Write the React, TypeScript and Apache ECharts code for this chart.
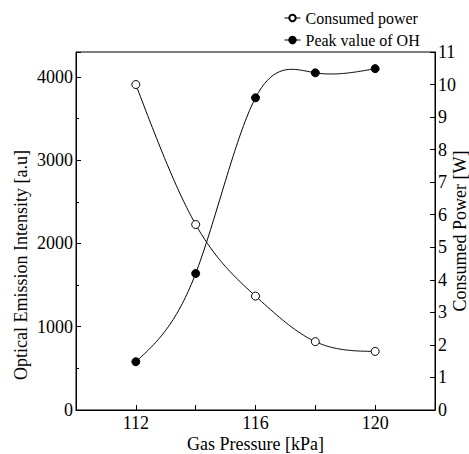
import React, { useEffect, useRef } from "react";
import * as echarts from "echarts";

const pressure = [112, 114, 116, 118, 120];
const consumedPower = [10.0, 5.7, 3.5, 2.1, 1.8];
const peakOH = [580, 1640, 3750, 4050, 4100];
const xLabels = [112, 116, 120];
const seriesNames = ["Consumed power", "Peak value of OH"];

const FONT = "'Liberation Serif', 'Times New Roman', Times, serif";

// natural cubic spline second derivatives
function splineM(xs: number[], ys: number[]) {
  const n = xs.length;
  const h: number[] = [];
  for (let i = 0; i < n - 1; i++) h.push(xs[i + 1] - xs[i]);
  const a: number[] = new Array(n).fill(0);
  const b: number[] = new Array(n).fill(1);
  const c: number[] = new Array(n).fill(0);
  const d: number[] = new Array(n).fill(0);
  for (let i = 1; i < n - 1; i++) {
    a[i] = h[i - 1];
    b[i] = 2 * (h[i - 1] + h[i]);
    c[i] = h[i];
    d[i] = 6 * ((ys[i + 1] - ys[i]) / h[i] - (ys[i] - ys[i - 1]) / h[i - 1]);
  }
  // Thomas algorithm
  const cp = new Array(n).fill(0);
  const dp = new Array(n).fill(0);
  cp[0] = c[0] / b[0];
  dp[0] = d[0] / b[0];
  for (let i = 1; i < n; i++) {
    const m = b[i] - a[i] * cp[i - 1];
    cp[i] = c[i] / m;
    dp[i] = (d[i] - a[i] * dp[i - 1]) / m;
  }
  const M = new Array(n).fill(0);
  M[n - 1] = dp[n - 1];
  for (let i = n - 2; i >= 0; i--) M[i] = dp[i] - cp[i] * M[i + 1];
  return M;
}

function splineRender(xs: number[], ys: number[]) {
  const M = splineM(xs, ys);
  return (params: any, api: any) => {
    if (params.dataIndex !== 0) return null;
    const pts: number[][] = [];
    for (let i = 0; i < xs.length - 1; i++) {
      const h = xs[i + 1] - xs[i];
      const steps = 40;
      for (let s = 0; s <= steps; s++) {
        if (i > 0 && s === 0) continue;
        const x = xs[i] + (h * s) / steps;
        const A = xs[i + 1] - x;
        const B = x - xs[i];
        const y =
          (M[i] * A * A * A) / (6 * h) +
          (M[i + 1] * B * B * B) / (6 * h) +
          (ys[i] / h - (M[i] * h) / 6) * A +
          (ys[i + 1] / h - (M[i + 1] * h) / 6) * B;
        pts.push(api.coord([x, y]));
      }
    }
    return {
      type: "polyline",
      shape: { points: pts },
      style: { stroke: "#000", lineWidth: 1, fill: null },
      silent: true,
    };
  };
}

export default function App() {
  const ref = useRef<HTMLDivElement>(null);
  useEffect(() => {
    if (!ref.current) return;
    const chart = echarts.init(ref.current, undefined, { renderer: "svg" });
    const txt = { color: "#000", fontFamily: FONT, fontSize: 18 };
    const powerData = pressure.map((p, i) => [p, consumedPower[i]]);
    const ohData = pressure.map((p, i) => [p, peakOH[i]]);
    chart.setOption({
      animation: false,
      backgroundColor: "#fff",
      textStyle: { fontFamily: FONT },
      grid: {
        left: 76,
        right: 34,
        top: 52,
        bottom: 44,
        containLabel: false,
        outerBoundsMode: "none",
        show: true,
        borderColor: "#000",
        borderWidth: 1,
        backgroundColor: "transparent",
      },
      legend: {
        orient: "vertical",
        left: 279,
        top: 5,
        itemGap: 6,
        itemWidth: 16,
        itemHeight: 8,
        textStyle: { ...txt, fontSize: 16 },
        lineStyle: { color: "#000", width: 1, opacity: 1, type: "solid" },
        data: seriesNames,
      },
      xAxis: {
        type: "value",
        min: 110,
        max: 122,
        interval: 2,
        name: "Gas Pressure [kPa]",
        nameLocation: "middle",
        nameGap: 25,
        nameMoveOverlap: false,
        nameTextStyle: txt,
        axisLine: { lineStyle: { color: "#000", width: 1 } },
        axisTick: { inside: true, length: 5, lineStyle: { color: "#000" } },
        axisLabel: {
          ...txt,
          margin: 4,
          formatter: (v: number) => (xLabels.includes(v) ? String(v) : ""),
        },
        splitLine: { show: false },
      },
      yAxis: [
        {
          type: "value",
          min: 0,
          max: 4300,
          interval: 1000,
          position: "left",
          name: "Optical Emission Intensity [a.u]",
          nameLocation: "middle",
          nameGap: 46,
          nameMoveOverlap: false,
          nameTextStyle: { ...txt, padding: [0, 68, 0, 0] },
          axisLine: { show: true, lineStyle: { color: "#000", width: 1 } },
          axisTick: { inside: true, length: 5, lineStyle: { color: "#000" } },
          minorTick: { show: true, splitNumber: 2, length: 3, lineStyle: { color: "#000" } },
          axisLabel: {
            ...txt,
            margin: 3,
            formatter: (v: number) => (v % 1000 === 0 ? String(v) : ""),
          },
          splitLine: { show: false },
        },
        {
          type: "value",
          min: 0,
          max: 11,
          interval: 1,
          position: "right",
          name: "Consumed Power [W]",
          nameLocation: "middle",
          nameGap: 16,
          nameMoveOverlap: false,
          nameRotate: 90,
          nameTextStyle: txt,
          axisLine: { show: true, lineStyle: { color: "#000", width: 1 } },
          axisTick: { inside: true, length: 5, lineStyle: { color: "#000" } },
          axisLabel: { ...txt, margin: 3 },
          splitLine: { show: false },
        },
      ],
      series: [
        {
          name: "powerCurve",
          type: "custom",
          yAxisIndex: 1,
          data: powerData,
          encode: { x: 0, y: 1 },
          renderItem: splineRender(pressure, consumedPower),
          z: 1,
          silent: true,
        },
        {
          name: "ohCurve",
          type: "custom",
          yAxisIndex: 0,
          data: ohData,
          encode: { x: 0, y: 1 },
          renderItem: splineRender(pressure, peakOH),
          z: 1,
          silent: true,
        },
        {
          name: seriesNames[0],
          type: "line",
          yAxisIndex: 1,
          data: powerData,
          symbol: "circle",
          symbolSize: 8,
          itemStyle: { color: "#fff", borderColor: "#000", borderWidth: 1 },
          lineStyle: { color: "#000", width: 0, opacity: 0 },
          z: 3,
        },
        {
          name: seriesNames[1],
          type: "line",
          yAxisIndex: 0,
          data: ohData,
          symbol: "circle",
          symbolSize: 8,
          itemStyle: { color: "#000", borderColor: "#000", borderWidth: 1 },
          lineStyle: { color: "#000", width: 0, opacity: 0 },
          z: 3,
        },
      ],
    });
    return () => chart.dispose();
  }, []);
  return <div ref={ref} style={{ width: 469, height: 454, position: "absolute", left: 0, top: 0 }} />;
}
